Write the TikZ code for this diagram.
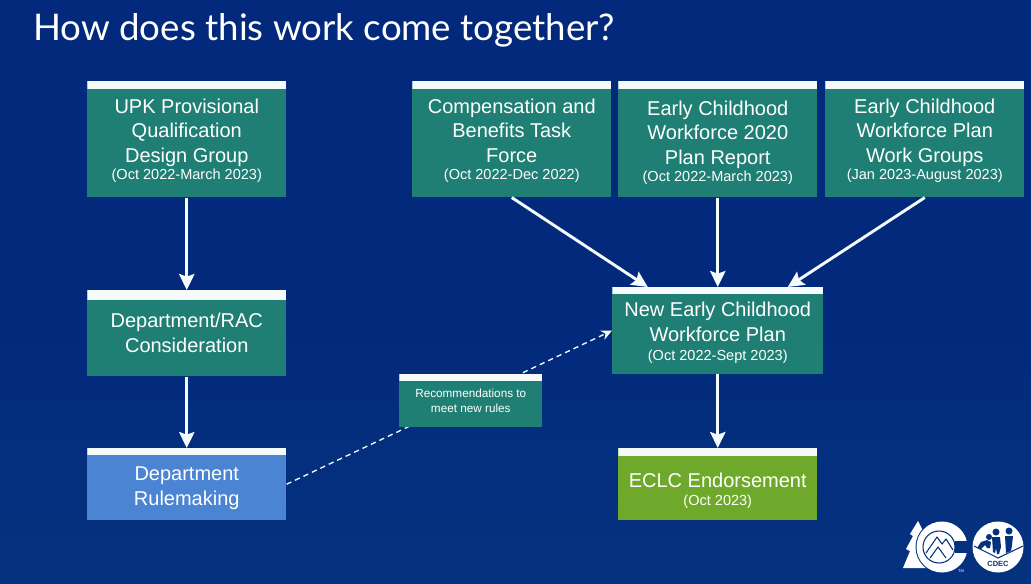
\documentclass[tikz,border=0pt]{standalone}
\usepackage{fontspec}
\setmainfont{Liberation Sans}
\newfontfamily\titlefont{Lato}
\usetikzlibrary{positioning,calc,arrows.meta}
\definecolor{slideLo}{HTML}{02297C}
\definecolor{slideHi}{HTML}{05327F}
\definecolor{planTeal}{HTML}{1F7F74}
\definecolor{ruleBlue}{HTML}{4A84D2}
\definecolor{endorseGreen}{HTML}{6FA92B}
\definecolor{stripWhite}{HTML}{F4FBFA}
\def\stripH{6pt}
\tikzset{
  x=0.75pt, y=-0.75pt,
  stripbar/.code={\def\stripH{#1}},
  planbox/.style={fill=planTeal, text=white, inner sep=0pt, align=center, anchor=north west,
    font=\fontsize{15}{18.4}\selectfont, minimum width=149.25pt,
    path picture={\fill[stripWhite] (path picture bounding box.north west)
      rectangle ([yshift=-\stripH]path picture bounding box.north east);}},
  flowarrow/.style={draw=stripWhite, line width=2.2pt, -{Stealth[length=12pt,width=11.5pt,inset=2pt]}},
  dashflow/.style={draw=stripWhite, line width=1pt, dash pattern=on 4pt off 3pt, -{Stealth[length=8pt,width=7.5pt]}}
}
\newcommand{\dates}[2][-5.25pt]{\\[#1]{\fontsize{10.9}{12}\selectfont #2}}
\begin{document}
\begin{tikzpicture}

\useasboundingbox (0,0) rectangle (1031,583);

% --- BACKGROUND ---
\shade[top color=slideLo, bottom color=slideHi, middle color=slideLo] (0,0) rectangle (1031,583);

% --- TITLE ---
\node[anchor=west, text=white, inner sep=0pt, font=\titlefont\fontsize{27.5}{30}\selectfont]
  (title) at (33,30) {How does this work come together?};

% --- TOP ROW ---
\node[planbox, minimum height=87pt] (upk) at (87,81)
  {\\[-5.2pt]UPK Provisional\\Qualification\\Design Group\dates{(Oct 2022-March 2023)}};
\node[planbox, minimum height=87pt] (comp) at (412,81)
  {\\[-5.2pt]Compensation and\\Benefits Task\\Force\dates{(Oct 2022-Dec 2022)}};
\node[planbox, minimum height=87pt] (report) at (618,81)
  {\\[-2.5pt]Early Childhood\\Workforce 2020\\Plan Report\dates{(Oct 2022-March 2023)}};
\node[planbox, minimum height=87pt] (groups) at (825,81)
  {\\[-5.2pt]Early Childhood\\Workforce Plan\\Work Groups\dates{(Jan 2023-August 2023)}};

% --- LEFT COLUMN ---
\node[planbox, minimum height=64.5pt, stripbar=7.5pt] (rac) at (87,290)
  {\\[-8.2pt]Department/RAC\\Consideration};
\node[planbox, minimum height=54pt, fill=ruleBlue, stripbar=5pt] (rulemaking) at (87,448)
  {\\[-2pt]Department\\Rulemaking};

% --- RIGHT COLUMN ---
\node[planbox, minimum height=65pt, minimum width=158.25pt, stripbar=5pt] (newplan) at (612,287)
  {\\[-3.75pt]New Early Childhood\\Workforce Plan\dates[-3.75pt]{(Oct 2022-Sept 2023)}};
\node[planbox, minimum height=54pt, fill=endorseGreen] (eclc) at (618,448)
  {\\[2pt]ECLC Endorsement\dates[-4.5pt]{(Oct 2023)}};

% --- CONNECTORS ---
\draw[flowarrow] (upk.south) -- (rac.north);
\draw[flowarrow] (rac.south) -- (rulemaking.north);
\draw[flowarrow] (comp.south) -- ($(newplan.north)+(-70,0)$);
\draw[flowarrow] (report.south) -- (report.south |- newplan.north);
\draw[flowarrow] (groups.south) -- ($(newplan.north)+(70,0)$);
\draw[flowarrow] (newplan.south) -- (newplan.south |- eclc.north);
\draw[dashflow] (rulemaking.east) -- (newplan.west);

% --- LABEL ON THE DASHED LINE ---
\node[planbox, minimum width=107.25pt, minimum height=39.75pt, stripbar=5pt,
  font=\fontsize{8.8}{11}\selectfont] (rules) at (399,374)
  {\\[-5pt]Recommendations to\\meet new rules};

% --- LOGOS ---
% tree + C
\fill[white] (918,521) -- (925,535) -- (932,568) -- (903,568) -- (910,551) -- (906,549)
  -- (913,536) -- (910,534) -- cycle;
\fill[slideHi] (942,547) circle (26.5);
\fill[white] (942,547) circle (25.5);
\fill[slideHi] (955,541) rectangle (968.5,553);
\fill[white] (939,547) circle (16);
\draw[slideHi, line width=0.8pt] (939,547) circle (16);
\draw[slideHi, line width=0.8pt, line join=round]
  (926,553) -- (937,537) -- (942,544) -- (946,539) -- (953,550);
\draw[slideHi, line width=0.8pt, line join=round]
  (930,558) -- (938,547) -- (946,558);
\node[text=white, inner sep=0pt, font=\fontsize{3}{3}\selectfont] (tmark) at (961,571) {TM};
% CDEC
\fill[white] (998,547) circle (25.5);
\draw[slideHi, line width=0.8pt] (974,546) -- (998,558) -- (1023,546);
% baby
\fill[slideHi] (989,537) circle (3);
\fill[slideHi] (977,548) -- (981,542) -- (987,540) -- (991,542) -- (990,548) -- (987,548)
  -- (985,545) -- (981,549) -- cycle;
% two children
\fill[slideHi] (996,532) circle (3.5);
\fill[slideHi] (992,537) -- (1000,537) -- (1001,547) -- (999,554) -- (997,554) -- (996,548)
  -- (995,553) -- (993,552) -- cycle;
\fill[slideHi] (1009,531) circle (3.5);
\fill[slideHi] (1005,536) -- (1013,536) -- (1012,545) -- (1011,551) -- (1006,553) -- cycle;
\node[text=slideHi, inner sep=0pt, font=\bfseries\fontsize{5.6}{6}\selectfont] (cdec) at (998,564) {CDEC};

\end{tikzpicture}
\end{document}
